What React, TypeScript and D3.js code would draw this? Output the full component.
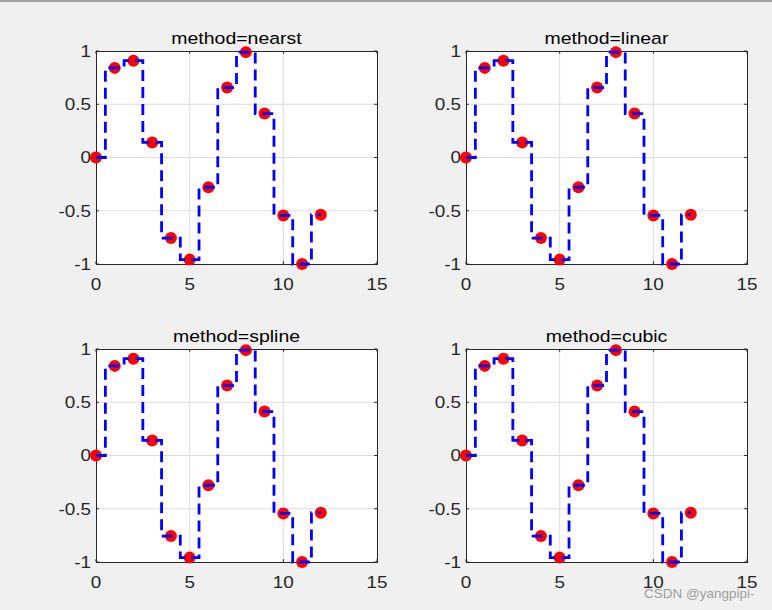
import React from "react";
import * as d3 from "d3";

const xData = [0, 1, 2, 3, 4, 5, 6, 7, 8, 9, 10, 11, 12];
const yData = [0, 0.8415, 0.9093, 0.1411, -0.7568, -0.9589, -0.2794, 0.657, 0.9894, 0.4121, -0.544, -1.0, -0.5366];
const titles = ["method=nearst", "method=linear", "method=spline", "method=cubic"];
const xTicks = [0, 5, 10, 15];
const yTicks = [-1, -0.5, 0, 0.5, 1];
const yTickLabels = ["-1", "-0.5", "0", "0.5", "1"];

const W = 772;
const H = 610;
const colLeft = [96, 466];
const rowTop = [51, 349];
const PW = 281;
const PH = 213;
const FONT = "'Liberation Sans', Arial, Helvetica, sans-serif";
const AX = "#262626";
const SX = 1.18;

function Panel({ left, top, title }: { left: number; top: number; title: string }) {
  const x = d3.scaleLinear().domain([0, 15]).range([left, left + PW]);
  const y = d3.scaleLinear().domain([-1, 1]).range([top + PH, top]);
  const pts: [number, number][] = xData.map((v, i) => [v, yData[i]]);
  const line = d3
    .line<[number, number]>()
    .x((d) => x(d[0]))
    .y((d) => y(d[1]))
    .curve(d3.curveStep);
  const tl = 2.8;
  return (
    <g>
      <rect x={left} y={top} width={PW} height={PH} fill="#ffffff" />
      {xTicks.slice(1, -1).map((t) => (
        <line key={"gx" + t} x1={x(t)} x2={x(t)} y1={top} y2={top + PH} stroke="#dcdcdc" strokeWidth={1} />
      ))}
      {yTicks.slice(1, -1).map((t) => (
        <line key={"gy" + t} y1={y(t)} y2={y(t)} x1={left} x2={left + PW} stroke="#dcdcdc" strokeWidth={1} />
      ))}
      {xTicks.map((t) => (
        <g key={"tx" + t}>
          <line x1={x(t)} x2={x(t)} y1={top + PH} y2={top + PH - tl} stroke={AX} />
          <line x1={x(t)} x2={x(t)} y1={top} y2={top + tl} stroke={AX} />
          <text
            transform={`translate(${x(t)},${top + PH + 26}) scale(${SX},1)`}
            textAnchor="middle"
            fontSize={16}
            fontFamily={FONT}
            fill={AX}
          >
            {t}
          </text>
        </g>
      ))}
      {yTicks.map((t, i) => (
        <g key={"ty" + t}>
          <line x1={left} x2={left + tl} y1={y(t)} y2={y(t)} stroke={AX} />
          <line x1={left + PW} x2={left + PW - tl} y1={y(t)} y2={y(t)} stroke={AX} />
          <text
            transform={`translate(${left - 5},${y(t)}) scale(${SX},1)`}
            dy="0.36em"
            textAnchor="end"
            fontSize={16}
            fontFamily={FONT}
            fill={AX}
          >
            {yTickLabels[i]}
          </text>
        </g>
      ))}
      <rect x={left + 0.5} y={top + 0.5} width={PW} height={PH} fill="none" stroke={AX} strokeWidth={1} />
      <text
        transform={`translate(${left + PW / 2},${top - 7.5}) scale(${SX},1)`}
        textAnchor="middle"
        fontSize={16.5}
        fontFamily={FONT}
        fill="#000"
      >
        {title}
      </text>
      {pts.map((d, i) => (
        <circle key={"m" + i} cx={x(d[0])} cy={y(d[1])} r={6} fill="#ff0000" />
      ))}
      <path d={line(pts) || ""} fill="none" stroke="#0000ff" strokeWidth={2.8} strokeDasharray="11 6" />
    </g>
  );
}

export default function App() {
  return (
    <svg
      width={W}
      height={H}
      viewBox={`0 0 ${W} ${H}`}
      style={{ position: "absolute", left: 0, top: 0, display: "block" }}
    >
      <rect x={0} y={0} width={W} height={H} fill="#f0f0f0" />
      <line x1={0} x2={W} y1={1} y2={1} stroke="#a0a0a0" strokeWidth={2} />
      {titles.map((t, i) => (
        <Panel key={t} left={colLeft[i % 2]} top={rowTop[Math.floor(i / 2)]} title={t} />
      ))}
      <text x={644} y={598} fontSize={13.5} fontFamily={FONT} fill="#8c8c8c" fillOpacity={0.85}>
        CSDN @yangpipi-
      </text>
    </svg>
  );
}
